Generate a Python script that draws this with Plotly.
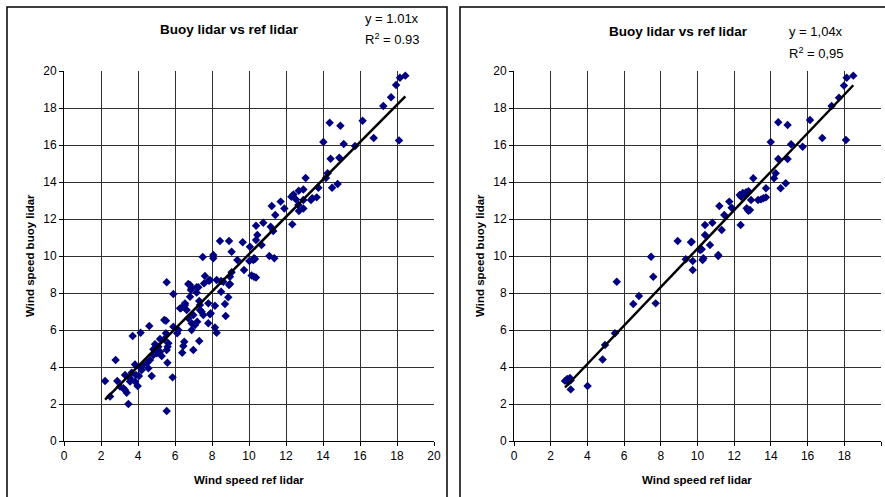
import plotly.graph_objects as go

# ---------------- data ----------------
left_x = [2.22, 2.49, 2.79, 2.88, 3.03, 3.21, 3.30, 3.30, 3.39, 3.48, 3.57, 3.57, 3.66, 3.71, 3.84, 3.84,
          3.89, 3.98, 4.05, 4.11, 4.14, 4.20, 4.25, 4.47, 4.56, 4.61, 4.65, 4.74, 4.83, 4.83, 4.92, 5.01,
          5.10, 5.19, 5.19, 5.28, 5.41, 5.42, 5.51, 5.51, 5.55, 5.55, 5.55, 5.59, 5.60, 5.64, 5.87, 5.91,
          5.91, 6.12, 6.18, 6.27, 6.31, 6.39, 6.45, 6.45, 6.50, 6.54, 6.54, 6.63, 6.72, 6.72, 6.81, 6.81,
          6.86, 6.90, 6.90, 6.90, 6.99, 6.99, 7.08, 7.17, 7.17, 7.20, 7.26, 7.31, 7.31, 7.35, 7.35, 7.44,
          7.50, 7.53, 7.57, 7.62, 7.80, 7.80, 7.84, 7.89, 7.89, 7.93, 8.07, 8.07, 8.16, 8.16, 8.25, 8.25,
          8.43, 8.49, 8.49, 8.61, 8.70, 8.74, 8.88, 8.92, 8.92, 8.97, 8.97, 9.06, 9.06, 9.37, 9.66, 9.73,
          10.02, 10.05, 10.14, 10.23, 10.27, 10.27, 10.32, 10.38, 10.38, 10.38, 10.45, 10.68, 10.77, 11.10,
          11.17, 11.23, 11.31, 11.37, 11.42, 11.71, 11.91, 12.29, 12.34, 12.40, 12.54, 12.67, 12.69, 12.70,
          12.94, 12.94, 12.94, 13.06, 13.35, 13.42, 13.66, 13.75, 14.02, 14.16, 14.25, 14.36, 14.41, 14.49,
          14.79, 14.88, 14.94, 15.12, 15.73, 16.14, 16.74, 17.26, 17.68, 17.95, 18.11, 18.16, 18.45]
left_y = [3.24, 2.40, 4.38, 3.24, 2.94, 2.85, 3.57, 2.76, 2.61, 2.00, 3.39, 3.21, 3.69, 5.68, 4.14, 3.21,
          3.57, 2.97, 3.51, 3.98, 5.85, 3.84, 4.11, 4.20, 3.93, 6.22, 4.38, 3.51, 4.96, 4.65, 5.23, 4.74,
          5.10, 5.51, 4.83, 4.59, 5.50, 6.54, 6.50, 5.82, 1.62, 8.58, 4.92, 4.23, 5.10, 5.28, 3.44, 7.95,
          6.18, 5.82, 6.00, 7.17, 7.17, 4.77, 5.14, 7.26, 5.37, 7.44, 7.35, 7.08, 8.49, 6.63, 8.43, 7.80,
          8.16, 8.25, 6.36, 6.00, 4.92, 6.81, 6.27, 8.31, 8.02, 6.45, 8.31, 7.57, 5.41, 7.35, 7.08, 6.99,
          9.95, 6.81, 8.52, 8.92, 7.44, 6.36, 8.66, 8.70, 6.85, 6.90, 10.05, 9.88, 7.31, 6.14, 8.70, 5.85,
          10.81, 8.65, 8.07, 8.61, 7.41, 6.76, 7.77, 10.81, 8.43, 8.88, 8.49, 10.23, 9.12, 9.78, 10.74, 9.24,
          9.73, 10.50, 8.95, 9.78, 9.88, 8.88, 9.84, 8.84, 10.86, 11.64, 11.14, 10.59, 11.80, 10.00,
          11.58, 12.70, 11.35, 9.88, 12.22, 12.94, 12.57, 13.20, 11.71, 13.33, 13.06, 12.76, 13.53, 12.43,
          13.59, 13.03, 12.57, 14.22, 13.03, 13.12, 13.17, 13.69, 16.16, 14.22, 14.47, 17.20, 15.26, 13.69,
          13.89, 15.31, 17.04, 16.05, 15.95, 17.31, 16.38, 18.11, 18.58, 19.24, 16.25, 19.64, 19.75]

right_x = [2.78, 2.90, 2.96, 3.05, 3.09, 3.09, 4.01, 4.83, 4.96, 5.50, 5.60, 6.50, 6.81, 7.47, 7.59, 7.72,
           8.92, 9.36, 9.65, 9.68, 9.74, 9.74, 10.14, 10.23, 10.28, 10.32, 10.41, 10.41, 10.68, 10.81, 11.13,
           11.13, 11.19, 11.32, 11.46, 11.73, 11.86, 12.30, 12.35, 12.38, 12.47, 12.56, 12.65, 12.68, 12.77,
           12.78, 12.86, 12.92, 13.04, 13.30, 13.46, 13.59, 13.73, 13.73, 13.99, 14.17, 14.26, 14.40, 14.40,
           14.53, 14.81, 14.91, 14.91, 15.10, 15.73, 16.13, 16.80, 17.31, 17.71, 17.98, 18.09, 18.13, 18.49]
right_y = [3.25, 3.35, 3.20, 3.40, 3.28, 2.79, 2.97, 4.41, 5.19, 5.82, 8.61, 7.41, 7.84, 9.96, 8.88, 7.44,
           10.81, 9.82, 10.74, 10.77, 9.73, 9.24, 10.32, 10.36, 9.78, 9.88, 11.68, 11.14, 10.59, 11.80, 10.05,
           10.00, 12.70, 11.41, 12.22, 12.94, 12.61, 13.30, 11.68, 13.20, 13.40, 13.35, 13.45, 12.58, 12.45,
           13.50, 12.49, 13.03, 14.20, 13.03, 13.06, 13.12, 13.17, 13.66, 16.16, 14.20, 14.47, 17.23, 15.24,
           13.66, 13.93, 17.08, 15.24, 16.04, 15.91, 17.35, 16.38, 18.11, 18.56, 19.21, 16.27, 19.64, 19.75]

left_slope = 1.01
right_slope = 1.04
panel_title = "Buoy lidar vs ref lidar"
left_eq = ["y = 1.01x", "R<sup>2</sup> = 0.93"]
right_eq = ["y = 1,04x", "R<sup>2</sup> = 0,95"]
x_title = "Wind speed ref lidar"
y_title = "Wind speed buoy lidar"

# ---------------- figure ----------------
W, H = 885, 497
FONT = "Liberation Sans, Arial, sans-serif"
NAVY = "#000080"

def px(x):
    return x / W

def py(y):
    return 1 - y / H

fig = go.Figure()

for i, (xs, ys, slope) in enumerate([(left_x, left_y, left_slope), (right_x, right_y, right_slope)]):
    xa = "x" if i == 0 else "x2"
    ya = "y" if i == 0 else "y2"
    fig.add_trace(go.Scatter(x=xs, y=ys, mode="markers", xaxis=xa, yaxis=ya,
                             marker=dict(symbol="diamond", size=6.5, color=NAVY,
                                         line=dict(width=0)),
                             showlegend=False, hoverinfo="x+y"))
    x0, x1 = min(xs), max(xs)
    fig.add_trace(go.Scatter(x=[x0, x1], y=[slope * x0, slope * x1], mode="lines",
                             xaxis=xa, yaxis=ya, line=dict(color="black", width=2.5),
                             showlegend=False, hoverinfo="skip"))

axis_common = dict(range=[0, 20], dtick=2, tick0=0, showgrid=True, gridcolor="#303030",
                   gridwidth=1, zeroline=False, showline=True, linecolor="black", linewidth=1,
                   ticks="outside", ticklen=4, tickcolor="black",
                   tickfont=dict(family=FONT, size=12, color="black"), fixedrange=True)

fig.update_layout(
    autosize=True, margin=dict(l=0, r=0, t=0, b=0, autoexpand=False),
    paper_bgcolor="white", plot_bgcolor="white",
    xaxis=dict(domain=[px(64), px(434)], anchor="y", **axis_common),
    yaxis=dict(domain=[py(441), py(71)], anchor="x", **axis_common),
    xaxis2=dict(domain=[px(514), px(881)], anchor="y2", **axis_common),
    yaxis2=dict(domain=[py(441), py(71)], anchor="x2", **axis_common),
)

shapes = [
    dict(type="rect", xref="paper", yref="paper", x0=px(7), x1=px(447), y0=py(510), y1=py(7),
         line=dict(color="black", width=1.5)),
    dict(type="rect", xref="paper", yref="paper", x0=px(460), x1=px(910), y0=py(510), y1=py(7),
         line=dict(color="black", width=1.5)),
]
fig.update_layout(shapes=shapes)

ann = []
def text(x, y, t, size=11, bold=False, angle=0, xanchor="center"):
    ann.append(dict(xref="paper", yref="paper", x=px(x), y=py(y), text=("<b>%s</b>" % t) if bold else t,
                    showarrow=False, xanchor=xanchor, yanchor="middle", textangle=angle,
                    font=dict(family=FONT, size=size, color="black")))

# left panel texts
text(229, 30, panel_title, size=13.5, bold=True)
text(392, 18, left_eq[0], size=13)
text(392, 39, left_eq[1], size=13)
text(249, 480, x_title, size=11.5, bold=True)
text(30, 256, y_title, size=11.5, bold=True, angle=-90)
# right panel texts
text(678, 32, panel_title, size=13.5, bold=True)
text(816, 32, right_eq[0], size=13)
text(816, 53, right_eq[1], size=13)
text(697, 480, x_title, size=11.5, bold=True)
text(480, 256, y_title, size=11.5, bold=True, angle=-90)
fig.update_layout(annotations=ann)

fig.write_html(
    "out.html",
    default_width="100vw", default_height="100vh",
    config={"displayModeBar": False, "responsive": True},
    post_script=("var d=document.getElementById('{plot_id}');"
                 "d.style.position='fixed';d.style.left='0px';d.style.top='0px';"
                 "document.documentElement.style.overflow='hidden';"
                 "document.body.style.margin='0';document.body.style.overflow='hidden';"
                 "Plotly.Plots.resize(d);"),
)
